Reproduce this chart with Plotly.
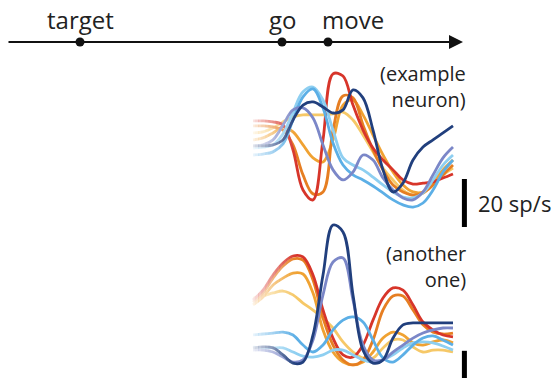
import plotly.graph_objects as go

# ---------------- data ----------------
time_ms = [-375, -325, -275, -225, -175, -125, -75, -25, 25, 75, 125,
           175, 225, 275, 325, 375, 425, 475, 525, 575, 625]

event_names = ["target", "go", "move"]
event_times = [-1240, -230, 0]

# example neuron (sp/s)
top_red = [39.2, 39.2, 38.8, 37.5, 27.1, 10.4, 6.3, 31.3, 58.8, 57.9, 45.8,
           35.4, 27.9, 22.9, 18.8, 14.6, 12.9, 13.3, 13.8, 15.4, 17.1]
top_darkorange = [37.1, 37.1, 36.7, 35.4, 29.2, 16.7, 8.8, 9.6, 35.4, 49.6, 48.8,
                  37.5, 27.1, 18.8, 12.5, 9.6, 8.3, 9.2, 12.5, 16.7, 20.8]
top_orange = [31.3, 32.1, 34.2, 36.7, 34.6, 29.2, 23.8, 22.1, 31.3, 45.8, 47.9,
              41.7, 33.3, 25.0, 17.9, 12.5, 9.6, 9.6, 13.8, 18.8, 22.9]
top_yellow = [34.2, 34.6, 36.3, 38.8, 40.8, 41.7, 41.7, 41.7, 42.1, 42.9, 39.6,
              33.3, 26.3, 19.6, 14.6, 10.4, 8.3, 9.2, 12.5, 16.7, 19.6]
top_skyblue = [27.9, 28.3, 29.2, 33.8, 42.9, 51.3, 53.3, 47.9, 35.4, 23.8, 20.8,
               18.8, 15.8, 12.5, 9.6, 7.5, 7.1, 9.2, 14.6, 20.8, 25.0]
top_lightblue = [25.0, 25.4, 26.3, 29.6, 39.6, 49.2, 52.5, 44.6, 30.0, 20.8, 16.7,
                 14.6, 12.1, 9.2, 6.3, 4.2, 3.3, 5.0, 10.4, 17.9, 22.9]
top_periwinkle = [28.8, 29.2, 31.3, 37.5, 43.8, 44.6, 40.4, 29.2, 18.8, 14.6, 17.9,
                  25.0, 22.9, 15.4, 10.4, 7.1, 6.3, 9.6, 16.7, 23.8, 28.3]
top_navy = [28.8, 28.8, 29.2, 31.3, 39.6, 45.8, 47.1, 45.0, 42.5, 43.8, 52.1,
            48.8, 35.4, 18.8, 9.6, 13.3, 22.9, 28.3, 31.3, 34.2, 37.1]

# another neuron (sp/s)
bot_red = [29.2, 33.3, 39.6, 44.6, 47.5, 47.1, 39.6, 25.0, 13.3, 6.3, 5.4,
           10.4, 20.8, 30.0, 34.2, 33.3, 27.1, 20.0, 16.7, 14.6, 13.8]
bot_darkorange = [28.3, 32.1, 38.3, 43.3, 46.3, 45.8, 37.5, 21.7, 10.4, 4.2, 2.1,
                  4.2, 12.5, 25.0, 30.8, 30.8, 25.0, 18.8, 15.8, 15.0, 15.4]
bot_orange = [27.1, 30.4, 35.4, 38.3, 40.4, 40.0, 32.1, 16.7, 7.5, 3.3, 2.1,
              3.3, 7.5, 13.3, 15.8, 14.6, 11.3, 10.4, 11.7, 12.5, 11.3]
bot_yellow = [30.0, 30.8, 32.1, 32.9, 31.3, 27.9, 25.0, 21.7, 17.5, 11.7, 7.5,
              5.0, 5.0, 9.2, 12.5, 12.5, 9.6, 7.5, 8.3, 8.3, 7.5]
bot_skyblue = [9.6, 9.2, 9.2, 9.2, 7.5, 5.8, 5.4, 6.3, 8.3, 8.3, 6.3,
               4.2, 3.3, 4.2, 6.3, 9.2, 11.3, 11.7, 11.3, 10.0, 8.3]
bot_lightblue = [14.6, 15.0, 15.4, 15.8, 14.6, 10.4, 7.5, 10.4, 16.7, 20.8, 22.1,
                 20.0, 12.5, 5.0, 3.3, 6.3, 10.4, 13.3, 14.2, 12.5, 10.4]
bot_periwinkle = [8.3, 8.3, 7.5, 5.4, 3.3, 4.2, 12.5, 31.3, 45.0, 46.7, 29.2,
                  10.4, 4.2, 4.2, 7.5, 10.4, 13.3, 15.4, 16.7, 17.5, 17.5]
bot_navy = [9.2, 9.6, 9.2, 6.3, 2.9, 3.3, 14.6, 39.6, 60.4, 57.5, 31.3,
            8.3, 2.9, 4.2, 13.3, 18.8, 19.6, 19.6, 19.6, 19.6, 19.6]

scale_bar_sps = 20
scale_label = "20 sp/s"

# ---------------- style ----------------
C_RED = "#d7352a"
C_DORANGE = "#e67e22"
C_ORANGE = "#f0a232"
C_YELLOW = "#f6c867"
C_SKY = "#8ecff1"
C_LBLUE = "#5cafe6"
C_PERI = "#7b87c8"
C_NAVY = "#213f7d"
FONT = "Open Sans"
TXT = "#222222"
LW = 2.8

top_traces = [(top_yellow, C_YELLOW), (top_orange, C_ORANGE), (top_darkorange, C_DORANGE),
              (top_red, C_RED), (top_skyblue, C_SKY), (top_lightblue, C_LBLUE),
              (top_periwinkle, C_PERI), (top_navy, C_NAVY)]
bot_traces = [(bot_yellow, C_YELLOW), (bot_orange, C_ORANGE), (bot_darkorange, C_DORANGE),
              (bot_red, C_RED), (bot_skyblue, C_SKY), (bot_lightblue, C_LBLUE),
              (bot_periwinkle, C_PERI), (bot_navy, C_NAVY)]

fig = go.Figure()
for vals, col in top_traces:
    fig.add_trace(go.Scatter(x=time_ms, y=vals, mode="lines", yaxis="y",
                             line=dict(color=col, width=LW, shape="spline", smoothing=1.0),
                             hoverinfo="skip", showlegend=False))
for vals, col in bot_traces:
    fig.add_trace(go.Scatter(x=time_ms, y=vals, mode="lines", yaxis="y2",
                             line=dict(color=col, width=LW, shape="spline", smoothing=1.0),
                             hoverinfo="skip", showlegend=False))

# timeline dots
fig.add_trace(go.Scatter(x=event_times, y=[0] * len(event_times), mode="markers", yaxis="y3",
                         marker=dict(color="#111111", size=9), hoverinfo="skip", showlegend=False))

annotations = []
# timeline arrow
annotations.append(dict(x=675, y=0, xref="x", yref="y3", ax=-1605, ay=0, axref="x", ayref="y3",
                        showarrow=True, arrowhead=2, arrowsize=1.4, arrowwidth=2,
                        arrowcolor="#111111", text=""))
# event labels
for name, t in zip(event_names, event_times):
    if name == "move":
        annotations.append(dict(x=t, y=0, xref="x", yref="y3", text=name, showarrow=False,
                                xanchor="left", yanchor="middle", xshift=-8, yshift=23,
                                font=dict(family=FONT, size=24, color=TXT)))
    else:
        annotations.append(dict(x=t, y=0, xref="x", yref="y3", text=name, showarrow=False,
                                xanchor="center", yanchor="middle", yshift=23,
                                font=dict(family=FONT, size=24, color=TXT)))

annotations.append(dict(x=700, y=53.5, xref="x", yref="y", text="(example<br>neuron)",
                        showarrow=False, xanchor="right", yanchor="middle", align="right",
                        font=dict(family=FONT, size=20, color=TXT)))
annotations.append(dict(x=700, y=43.1, xref="x", yref="y2", text="(another<br>one)",
                        showarrow=False, xanchor="right", yanchor="middle", align="right",
                        font=dict(family=FONT, size=20, color=TXT)))
annotations.append(dict(x=682, y=scale_bar_sps / 4, xref="x", yref="y", text=scale_label,
                        showarrow=False, xanchor="left", yanchor="middle", xshift=12,
                        font=dict(family=FONT, size=22, color=TXT)))

shapes = []
# scale bars
shapes.append(dict(type="line", xref="x", yref="y", x0=682, x1=682, y0=-5, y1=-5 + scale_bar_sps,
                   line=dict(color="black", width=5)))
shapes.append(dict(type="line", xref="x", yref="y2", x0=682, x1=682, y0=-12, y1=-12 + scale_bar_sps,
                   line=dict(color="black", width=5)))
# fade-in overlay at the left edge of the traces
n_strips = 14
x_start, x_end = -400, -160
w = (x_end - x_start) / n_strips
for i in range(n_strips):
    op = max(0.0, 1.0 - ((i + 0.5) / n_strips) ** 0.9)
    shapes.append(dict(type="rect", xref="x", yref="paper", x0=x_start + i * w, x1=x_start + (i + 1) * w + 0.5,
                       y0=0, y1=0.862, fillcolor="white", opacity=op, line=dict(width=0), layer="above"))

fig.update_layout(
    width=558, height=378, autosize=False,
    margin=dict(l=0, r=0, t=0, b=0),
    paper_bgcolor="white", plot_bgcolor="white",
    xaxis=dict(range=[-1640, 1150], visible=False, fixedrange=True),
    yaxis=dict(range=[-67.92, 89.58], visible=False, fixedrange=True),
    yaxis2=dict(range=[-3.33, 154.17], visible=False, overlaying="y", fixedrange=True),
    yaxis3=dict(range=[-336, 42], visible=False, overlaying="y", fixedrange=True),
    annotations=annotations, shapes=shapes,
)

fig.write_html("out.html", config={"displayModeBar": False, "staticPlot": True},
               post_script="document.body.style.margin='0';")
